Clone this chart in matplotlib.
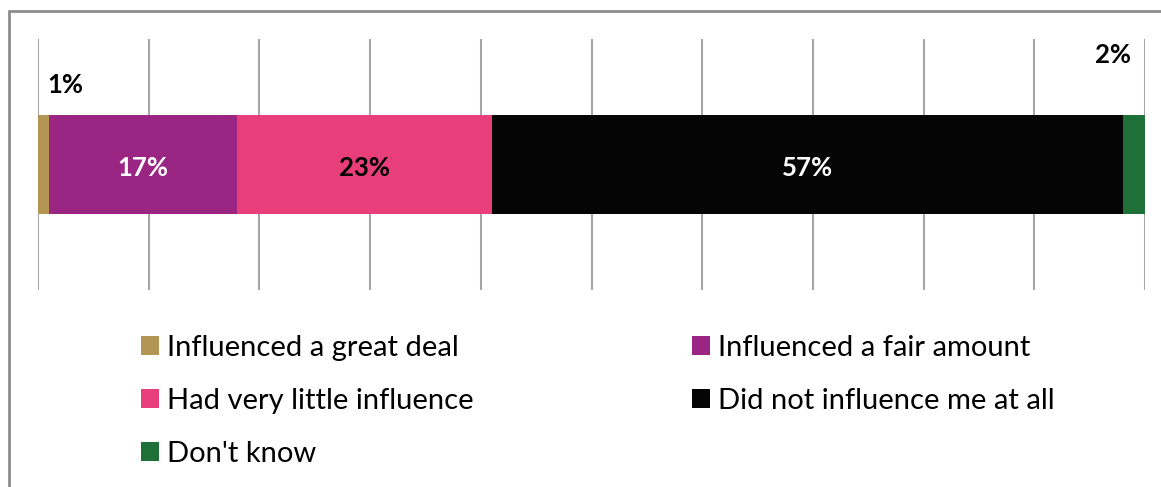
import matplotlib.pyplot as plt
from matplotlib.patches import Rectangle, Patch

# Share of respondents per answer
categories = ["Influenced a great deal", "Influenced a fair amount",
              "Had very little influence", "Did not influence me at all",
              "Don't know"]
values = [1, 17, 23, 57, 2]
colors = ["#B39654", "#9B2583", "#E83E7A", "#050505", "#1F7038"]
label_colors = ["#000000", "#FFFFFF", "#000000", "#FFFFFF", "#000000"]

plt.rcParams["font.family"] = ["Lato", "DejaVu Sans"]

fig = plt.figure(figsize=(11.61, 4.87), dpi=100)
ax = fig.add_axes([38 / 1161, 197 / 487, 1107 / 1161, 251 / 487])

left = 0
for i, (cat, val) in enumerate(zip(categories, values)):
    ax.barh(0.5, val, left=left, height=0.394, color=colors[i], label=cat, zorder=2)
    centre = left + val / 2
    if val >= 5:
        ax.text(centre, 0.485, f"{val}%", ha="center", va="center",
                color=label_colors[i], fontsize=18.5, fontweight="bold", zorder=3)
    left += val

# small segments get their labels outside the bar
ax.text(2.45, 0.815, f"{values[0]}%", ha="center", va="center",
        fontsize=18.5, fontweight="bold")
ax.text(97.1, 0.935, f"{values[4]}%", ha="center", va="center",
        fontsize=18.5, fontweight="bold")

ax.set_xlim(0, 100)
ax.set_ylim(0, 1)
ax.set_xticks(range(0, 101, 10))
ax.grid(axis="x", color="#A6A6A6", linewidth=1.5, zorder=0)
ax.tick_params(left=False, bottom=False, labelleft=False, labelbottom=False)
for s in ax.spines.values():
    s.set_visible(False)

# legend: first column holds 3 entries, second column 2
order = [0, 2, 4, 1, 3]
handles = [Patch(facecolor=colors[i], edgecolor="none") for i in order]
labels = [categories[i] for i in order]
fig.legend(handles, labels, ncol=2, loc="upper left",
           bbox_to_anchor=(141 / 1161, 1 - 335 / 487), frameon=False,
           borderpad=0, borderaxespad=0,
           fontsize=21, handlelength=0.62, handleheight=0.62,
           handletextpad=0.27, columnspacing=7.5, labelspacing=0.92)

# outer chart frame
fig.patches.append(Rectangle((9 / 1161, -0.05), 1.1, 1 - 11 / 487 + 0.05,
                             transform=fig.transFigure, fill=False,
                             edgecolor="#8C8C8C", linewidth=2))

fig.savefig("out.png", dpi=100)
